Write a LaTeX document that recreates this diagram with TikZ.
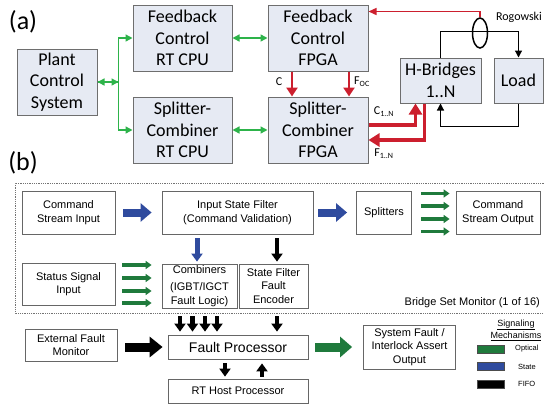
\documentclass[tikz,border=0pt]{standalone}
\usepackage{fontspec}
\setmainfont{Liberation Sans}
\newfontfamily\calfont{Carlito}
\usetikzlibrary{arrows.meta,shapes.geometric,calc}
\definecolor{boxfill}{HTML}{E6EAF3}
\definecolor{boxline}{HTML}{6E6E6E}
\definecolor{sigred}{HTML}{CC1F2E}
\definecolor{litegreen}{HTML}{2DB34A}
\definecolor{optgreen}{HTML}{1F7A3C}
\definecolor{stateblue}{HTML}{2F4B9E}

\begin{document}
\begin{tikzpicture}[x=1pt,y=-1pt,
    abox/.style={draw=boxline, fill=boxfill, line width=1pt, inner sep=0pt, align=center,
      font=\calfont\fontsize{18}{21.5}\selectfont},
    bbox/.style={draw=black!60, line width=0.8pt, inner sep=0pt, align=center,
      font=\fontsize{11}{13.5}\selectfont},
    lbl/.style={inner sep=0pt, font=\calfont\fontsize{12}{13}\selectfont},
    garr/.style={draw=litegreen, line width=1.4pt, -{Triangle[length=7pt,width=7pt]}},
    gdbl/.style={draw=litegreen, line width=1.4pt, {Triangle[length=7pt,width=7pt]}-{Triangle[length=7pt,width=7pt]}},
    rthin/.style={draw=sigred, line width=1.4pt, -{Triangle[length=8pt,width=7pt]}},
    rmid/.style={draw=sigred, line width=2.6pt, -{Triangle[length=9pt,width=11pt]}},
    rthick/.style={draw=sigred, line width=3.6pt, -{Triangle[length=11pt,width=13pt]}},
    wire/.style={draw=black, line width=1.2pt, -{Triangle[length=7pt,width=7pt]}},
    greensm/.style={draw=optgreen, line width=3.5pt, -{Triangle[length=6pt,width=8pt]}, shorten <=7pt, shorten >=10pt},
    bluebig/.style={draw=stateblue, line width=8pt, -{Triangle[length=11pt,width=18pt]}},
    bluesm/.style={draw=stateblue, line width=5pt, -{Triangle[length=8pt,width=11pt]}},
    fifosm/.style={draw=black, line width=4.5pt, -{Triangle[length=8pt,width=11pt]}},
    fifobig/.style={draw=black, line width=9pt, -{Triangle[length=13pt,width=20pt]}},
    optbig/.style={draw=optgreen, line width=9pt, -{Triangle[length=12pt,width=20pt]}},
    swatch/.style={minimum width=27pt, minimum height=8pt, inner sep=0pt, draw=black!70, line width=0.4pt},
    legtxt/.style={anchor=west, inner sep=0pt, font=\fontsize{7.5}{8}\selectfont}]
\useasboundingbox (0,0) rectangle (544,407);

\node[inner sep=0pt, font=\calfont\fontsize{26}{28}\selectfont] (parta) at (23,22) {(a)};
\node[abox, minimum width=80, minimum height=66] (plant) at (57,82) {Plant\\Control\\System};
\node[abox, minimum width=99, minimum height=66] (fbcpu) at (182.5,38) {Feedback\\Control\\RT CPU};
\node[abox, minimum width=99, minimum height=66] (sccpu) at (182.5,130) {Splitter-\\Combiner\\RT CPU};
\node[abox, minimum width=100, minimum height=66] (fbfpga) at (318,38) {Feedback\\Control\\FPGA};
\node[abox, minimum width=100, minimum height=66] (scfpga) at (318,130) {Splitter-\\Combiner\\FPGA};
\node[abox, minimum width=81, minimum height=45] (hbr) at (440.5,80.5) {H-Bridges\\1..N};
\node[abox, minimum width=49, minimum height=45] (load) at (518.5,80.5) {Load};
\node[lbl] (rogo) at (519,17) {Rogowski};
\node[lbl] (clbl) at (279,82) {C};
\node[lbl] (foclbl) at (362,82) {F\textsubscript{OC}};
\node[lbl] (cnlbl) at (384,112) {C\textsubscript{1..N}};
\node[lbl] (fnlbl) at (384,154) {F\textsubscript{1..N}};

\draw[garr] (plant.east) -- ++(21,0) coordinate (gsplit);
\draw[garr] (gsplit) |- (fbcpu.west);
\draw[garr] (gsplit) |- (sccpu.west);
\draw[garr] (gsplit) -- (plant.east);
\draw[gdbl] (fbcpu.east) -- (fbfpga.west);
\draw[gdbl] (sccpu.east) -- (scfpga.west);
\draw[rmid] ([xshift=-26pt]fbfpga.south) -- ([xshift=-26pt]scfpga.north);
\draw[rmid] ([xshift=31pt]fbfpga.south) -- ([xshift=31pt]scfpga.north);
\draw[wire] (hbr.north) -- ++(0,-26) -| (load.north);
\draw[wire] (load.south) -- ++(0,23) -| (hbr.south);
\node[draw, ellipse, line width=1.5pt, minimum width=15, minimum height=30, inner sep=0pt] (coil) at (480,33) {};
\draw[rthin] (coil.north) |- ([yshift=-7pt]fbfpga.north east);
\draw[rthick] ([yshift=5pt]scfpga.east) -| ([xshift=-25pt]hbr.south);
\draw[rthick] ([xshift=-16pt]hbr.south) |- ([yshift=-10pt]scfpga.east);

\node[inner sep=0pt, font=\calfont\fontsize{26}{28}\selectfont] (partb) at (23,163) {(b)};
\draw[black!55, line width=0.8pt, densely dotted] (546,183) -| (15,313) -- (546,313);
\node[anchor=east, inner sep=0pt, font=\fontsize{11}{13}\selectfont] (bsm) at (540,303) {Bridge Set Monitor (1 of 16)};
\node[bbox, minimum width=93, minimum height=43] (csin) at (68.5,212.5) {Command\\Stream Input};
\node[bbox, minimum width=151, minimum height=43] (isf) at (237.5,212.5) {Input State Filter\\(Command Validation)};
\node[bbox, minimum width=55, minimum height=43] (spl) at (384,212.5) {Splitters};
\node[bbox, minimum width=84, minimum height=43] (csout) at (498,212.5) {Command\\Stream Output};
\node[bbox, minimum width=93, minimum height=42] (ssin) at (68.5,284) {Status Signal\\Input};
\node[bbox, minimum width=75, minimum height=44] (comb) at (199.5,286) {Combiners\\[4pt](IGBT/IGCT\\Fault Logic)};
\node[bbox, minimum width=69, minimum height=44] (sffe) at (273.5,286) {State Filter\\Fault\\Encoder};
\node[bbox, minimum width=92, minimum height=32] (efm) at (71,345) {External Fault\\Monitor};
\node[bbox, minimum width=140, minimum height=24, font=\fontsize{14}{16}\selectfont] (fp) at (238,347) {Fault Processor};
\node[bbox, minimum width=140, minimum height=24] (rth) at (238,391) {RT Host Processor};
\node[bbox, minimum width=92, minimum height=44] (sfo) at (409.5,347) {System Fault /\\Interlock Assert\\Output};

\draw[bluebig, shorten <=8pt, shorten >=10pt] (csin) -- (isf);
\draw[bluebig, shorten <=5pt, shorten >=9pt] (isf) -- (spl);
\foreach \dy in {19,6.5,-6.5,-19}
  \draw[greensm, shorten <=9pt, shorten >=6pt] ([yshift=\dy pt]spl.east) -- ([yshift=\dy pt]csout.west);
\foreach \dy in {21,8,-5,-17}
  \draw[greensm] ([yshift=\dy pt]comb.west -| ssin.east) -- ([yshift=\dy pt]comb.west);
\draw[bluesm, shorten <=4pt, shorten >=2pt] ([xshift=-2.5pt]comb.north |- isf.south) -- ([xshift=-2.5pt]comb.north);
\draw[fifosm, shorten <=4pt, shorten >=2pt] ([xshift=3.5pt]sffe.north |- isf.south) -- ([xshift=3.5pt]sffe.north);
\foreach \dx in {-19.5,-7,5.5,17.5}
  \draw[fifosm, shorten <=8pt, shorten >=3pt] ([xshift=\dx pt]comb.south) -- ([xshift=\dx pt]comb.south |- fp.north);
\draw[fifosm, shorten <=8pt, shorten >=3pt] ([xshift=3.5pt]sffe.south) -- ([xshift=3.5pt]sffe.south |- fp.north);
\draw[fifobig, shorten <=8pt, shorten >=5pt] (fp.west -| efm.east) -- (fp.west);
\draw[optbig, shorten <=7pt, shorten >=11pt] (fp.east) -- (sfo.west);
\draw[fifosm, shorten <=4pt, shorten >=2pt] ([xshift=-13pt]fp.south) -- ([xshift=-13pt]rth.north);
\draw[fifosm, shorten <=2pt, shorten >=4pt] ([xshift=24pt]rth.north) -- ([xshift=24pt]fp.south);

\node[inner sep=0pt, font=\fontsize{9}{10}\selectfont] (leghead) at (516,325) {\underline{Signaling}};
\node[inner sep=0pt, font=\fontsize{9}{10}\selectfont] (leghead2) at (516,336.5) {\underline{Mechanisms}};
\node[swatch, fill=optgreen] (legopt) at (490.5,349) {};
\node[swatch, fill=stateblue] (legstate) at (490.5,366.5) {};
\node[swatch, fill=black] (legfifo) at (490.5,384) {};
\node[legtxt] (legopttxt) at (515,349) {Optical};
\node[legtxt] (legstatetxt) at (518,366.5) {State};
\node[legtxt] (legfifotxt) at (518,384) {FIFO};
\end{tikzpicture}
\end{document}
